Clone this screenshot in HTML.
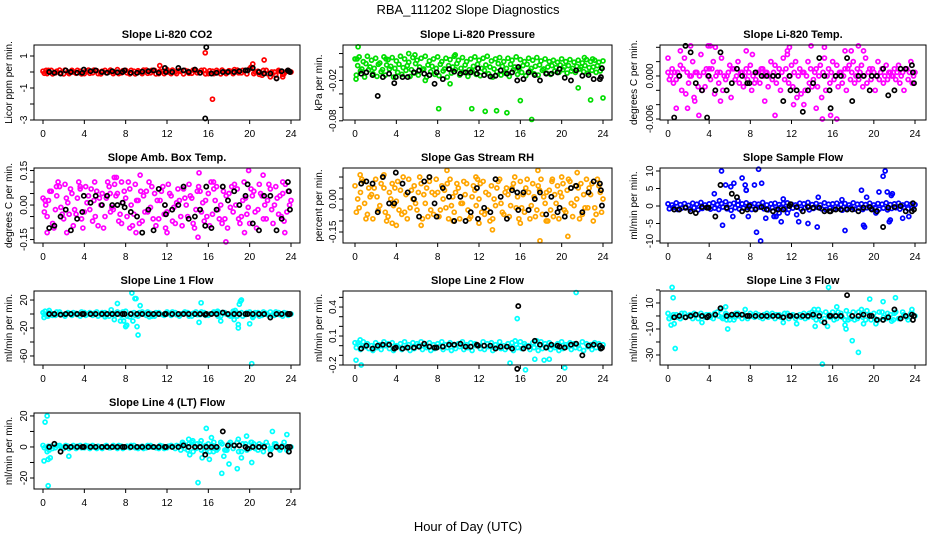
<!DOCTYPE html>
<html><head><meta charset="utf-8"><title>RBA_111202 Slope Diagnostics</title>
<style>
html,body{margin:0;padding:0;background:#fff;}
svg{display:block;font-family:"Liberation Sans",Arial,sans-serif;}
</style></head>
<body>
<svg id="chart" width="936" height="540" viewBox="0 0 936 540">
<rect x="0" y="0" width="936" height="540" fill="#fff"/>
<text x="468" y="14" text-anchor="middle" font-size="13">RBA_111202  Slope Diagnostics</text>
<text x="468" y="531" text-anchor="middle" font-size="13">Hour of Day (UTC)</text>
</svg>
<script>
const BAND_STEP = 0.4;
const hourTicks = [0,4,8,12,16,20,24];
const blackX = [0.6,1.1,1.7,2.2,2.7,3.3,3.8,3.95,4.6,5.1,5.7,6.2,6.7,7.2,7.7,7.9,8.5,9.1,9.6,10.2,10.7,11.2,11.8,11.9,12.5,13.1,13.6,14.1,14.7,15.2,15.7,15.8,16.3,16.8,17.4,17.9,18.5,19.0,19.6,19.8,20.3,20.9,21.4,22.0,22.6,23.1,23.7,23.8,23.9];

/* Panel 1: CO2 */
const p1BandA = [0.05,-0.1,0.1,-0.05,0.12,-0.12,0.0,0.1,-0.08,0.05,-0.1,0.12,-0.05,0.08,-0.12,0.1,0.0,-0.1,0.15,-0.05,0.1,-0.12,0.05,0.08,-0.1,0.12,-0.05,0.1,-0.1,0.05,0.15,-0.1,0.0,0.1,-0.12,0.05,-0.08,0.1,-0.05,0.12,-0.1,0.05,0.1,-0.12,0.0,0.08,-0.1,0.12,-0.05,0.1,0.2,-0.1,0.05,-0.2,0.1,-0.3,0.0,0.1,-0.15,0.05,0.0];
const p1BandB = [-0.08,0.1,-0.12,0.05,-0.05,0.12,-0.1,0.0,0.1,-0.12,0.05,-0.08,0.12,-0.1,0.05,-0.05,0.12,0.0,-0.1,0.08,-0.05,0.1,-0.12,0.0,0.12,-0.08,0.1,-0.12,0.05,-0.1,0.0,0.12,-0.1,0.05,0.1,-0.08,0.12,-0.05,0.1,-0.12,0.08,-0.1,0.0,0.12,-0.1,0.05,0.15,-0.05,0.1,-0.12,0.3,0.0,-0.15,0.1,-0.1,0.0,-0.2,0.05,-0.1,0.1,-0.05];
const p1OutX = [15.7,16.4,21.4,20.3,11.3,0.3,23.2,22.6];
const p1OutY = [1.2,-1.7,0.75,0.5,0.4,0.1,-0.3,-0.4];
const p1Black = [0.0,-0.05,-0.1,0.1,0.0,-0.05,-0.05,0.15,0.05,0.1,0.0,-0.05,0.05,-0.02,0.0,0.1,-0.05,-0.05,0.02,0.05,0.1,-0.05,0.25,0.0,0.0,0.25,0.1,0.0,0.15,-0.05,-2.9,1.55,-0.1,-0.05,0.0,0.0,0.0,0.05,0.1,0.1,0.25,0.0,-0.1,-0.1,-0.4,0.05,0.1,0.05,0.0];
const p1YTicks = [1,0,-1,-2,-3];
const p1YLabels = ["1","","-1","","-3"];

/* Panel 2: Pressure */
const p2BandA = [0.012,0.015,0.008,0.016,0.01,0.013,0.006,0.015,0.011,0.014,0.009,0.016,0.012,0.007,0.014,0.01,0.013,0.016,0.009,0.012,0.015,0.008,0.013,0.011,0.016,0.01,0.014,0.008,0.012,0.015,0.01,0.013,0.016,0.009,0.012,0.014,0.008,0.013,0.01,0.015,0.011,0.008,0.013,0.01,0.014,0.009,0.012,0.008,0.01,0.007,0.012,0.008,0.011,0.007,0.01,0.006,0.011,0.008,0.01,0.007,0.009];
const p2BandB = [-0.012,-0.006,-0.015,-0.004,-0.01,-0.014,-0.007,-0.012,-0.003,-0.015,-0.008,-0.011,-0.005,-0.014,-0.009,-0.012,-0.004,-0.015,-0.007,-0.011,-0.013,-0.006,-0.015,-0.009,-0.004,-0.012,-0.008,-0.014,-0.006,-0.011,-0.013,-0.005,-0.01,-0.015,-0.007,-0.012,-0.009,-0.014,-0.004,-0.011,-0.008,-0.013,-0.006,-0.01,-0.012,-0.005,-0.009,-0.011,-0.006,-0.008,-0.004,-0.009,-0.006,-0.008,-0.003,-0.007,-0.009,-0.005,-0.008,-0.006,-0.004];
const p2BandC = [0.002,-0.003,0.005,0.0,-0.002,0.004,-0.004,0.003,0.001,-0.002,0.004,-0.001,0.002,-0.004,0.005,0.0,-0.003,0.003,0.001,-0.002,0.004,-0.003,0.002,0.0,0.005,-0.002,0.003,-0.004,0.001,0.004,-0.002,0.003,0.0,-0.003,0.005,0.001,-0.002,0.004,0.0,-0.003,0.002,0.004,-0.002,0.001,0.003,-0.003,0.0,0.002,-0.001,0.003,0.0,0.002,-0.002,0.001,0.0,0.002,-0.001,0.0,0.002,-0.001,0.001];
const p2OutX = [0.3,0.1,0.2,5.2,5.8,9.7,8.1,9.2,11.3,12.6,13.7,14.7,16.0,17.1,21.6,22.8,24.0,6.8,3.0,22.2,23.0];
const p2OutY = [0.03,-0.018,0.012,0.02,0.018,0.018,-0.062,-0.025,-0.062,-0.066,-0.065,-0.068,-0.05,-0.078,-0.031,-0.049,-0.046,-0.02,0.012,0.014,0.012];
const p2Black = [-0.01,-0.008,-0.012,-0.043,-0.015,-0.01,-0.024,-0.015,-0.015,-0.015,-0.008,-0.005,-0.01,-0.012,-0.025,-0.008,-0.018,-0.003,-0.007,-0.01,-0.008,-0.008,-0.01,-0.002,-0.012,-0.014,-0.013,-0.005,-0.01,-0.008,-0.02,0.0,-0.018,-0.008,-0.012,-0.02,-0.01,-0.01,-0.008,-0.003,-0.016,-0.02,-0.005,-0.013,-0.012,-0.018,-0.018,-0.015,-0.002];
const p2YTicks = [0.02,0,-0.02,-0.04,-0.06,-0.08];
const p2YLabels = ["","","-0.02","","","-0.08"];

/* Panel 3: Li-820 Temp */
const p3BandA = [0.0005,0.001,-0.0005,0.0015,0.0025,-0.001,0.002,0.0005,0.003,-0.0015,0.001,0.002,0.0005,0.0025,-0.0005,0.0015,0.001,0.002,0.0005,0.001,0.0015,-0.001,0.0005,0.001,0.0005,0.002,0.0015,0.001,0.0025,0.003,0.0015,0.002,0.001,0.0005,0.002,-0.0015,0.001,0.0015,0.0025,0.001,0.002,0.0015,0.0005,0.001,0.0015,0.002,0.001,0.0015,0.0025,0.001,0.0005,0.002,0.001,0.0015,0.0005,0.001,0.0015,0.0005,0.001,0.002,0.0005];
const p3BandB = [-0.0005,-0.001,0.0005,-0.002,-0.0025,0.0,-0.003,-0.0015,-0.002,0.001,-0.0005,-0.0025,-0.001,-0.002,0.0,-0.003,-0.0005,-0.001,-0.0015,-0.0005,-0.002,-0.0005,-0.001,0.0,-0.0015,-0.0005,-0.001,-0.002,-0.0005,-0.001,-0.0015,-0.003,-0.0025,-0.002,-0.001,-0.0005,-0.0015,-0.003,-0.002,-0.001,-0.0005,-0.0015,-0.001,-0.002,-0.0005,-0.001,-0.0005,-0.0015,-0.001,-0.0005,-0.002,-0.0005,-0.001,-0.0005,0.0,-0.0005,-0.001,-0.002,-0.0005,-0.001,0.0];
const p3BandC = [0.0,0.0005,0.0,0.001,0.0005,0.0,0.0005,0.0,0.0005,0.0,0.001,0.0,0.0005,0.0,0.0005,0.001,0.0,0.0005,0.0,0.0005,0.0,0.0005,0.001,0.0005,0.0,0.0005,0.0,0.0005,0.001,0.0,0.0005,0.0,0.0005,0.0,0.001,0.0005,0.0,0.0005,0.0,0.0005,0.0,0.0005,0.0,0.001,0.0005,0.0,0.0005,0.0,0.0005,0.001,0.0,0.0005,0.0,0.0005,0.0,0.0005,0.0,0.001,0.0005,0.0,0.0005];
const p3OutX = [0,0.8,1.2,1.9,2.2,3.0,3.9,4.1,4.6,7.6,8.2,9.4,10.4,11.6,11.8,13.9,14.4,15.0,15.2,15.8,16.4,17.2,17.8,18.5,19.0,2.6,5.1,12.2,13.2];
const p3OutY = [0.0025,-0.0045,0.0035,-0.0045,0.0042,-0.0055,0.0042,0.0042,0.004,0.0035,0.003,-0.0035,-0.0055,0.0035,0.004,0.0042,-0.0045,-0.006,0.004,-0.0055,-0.006,0.0035,0.0035,0.0042,0.0035,-0.0035,-0.0035,-0.004,-0.004];
const p3Black = [-0.0058,0.0,0.0042,0.0033,-0.001,-0.002,-0.0058,0.0,-0.002,0.0033,-0.002,-0.001,0.001,0.0,-0.001,-0.001,0.0005,0.0,0.0,0.0,0.0,-0.0035,0.0,-0.002,-0.002,-0.005,-0.002,-0.001,0.0025,0.0,-0.002,-0.0045,0.0,0.0,0.0025,-0.0035,0.0,0.0,-0.002,0.0,0.0,0.001,-0.0027,-0.002,0.001,0.001,0.0015,0.0005,-0.001];
const p3YTicks = [0.004,0.002,0,-0.002,-0.004,-0.006];
const p3YLabels = ["","","0.000","","","-0.006"];

/* Panel 4: Amb. Box Temp */
const p4BandA = [0.03,-0.05,0.06,-0.02,0.08,-0.06,0.01,0.05,-0.04,0.07,-0.03,0.04,-0.07,0.06,0.0,-0.05,0.08,-0.02,0.05,-0.08,0.03,0.07,-0.04,0.02,-0.07,0.06,-0.01,0.05,-0.06,0.08,-0.03,0.04,-0.08,0.02,0.07,-0.05,0.03,-0.02,0.06,-0.07,0.05,-0.04,0.08,0.0,-0.06,0.05,-0.03,0.07,-0.05,0.03,-0.08,0.06,-0.02,0.04,-0.06,0.07,0.0,-0.04,0.05,-0.03,0.02];
const p4BandB = [-0.03,0.02,-0.08,0.04,-0.01,0.09,-0.04,-0.09,0.03,-0.06,0.08,-0.02,0.02,-0.09,0.05,0.03,-0.03,0.09,-0.07,0.01,-0.05,0.0,0.09,-0.08,0.04,-0.03,0.08,-0.09,0.02,-0.04,0.09,-0.07,0.01,-0.05,0.03,0.09,-0.08,0.06,-0.03,0.02,-0.09,0.07,-0.02,-0.08,0.04,-0.01,0.09,-0.06,0.02,-0.04,0.07,-0.03,0.09,-0.06,0.02,-0.02,0.08,0.04,-0.07,0.06,-0.02];
const p4BandC = [0.0,0.06,-0.1,0.1,-0.04,0.03,0.07,-0.02,0.1,-0.1,0.01,0.07,-0.05,0.03,-0.1,0.1,-0.01,0.04,-0.04,0.06,0.1,-0.09,0.02,0.06,-0.03,0.1,-0.06,0.02,0.06,-0.1,0.05,-0.01,0.07,-0.09,0.0,0.04,-0.1,0.08,0.01,-0.05,0.1,0.02,-0.06,0.06,-0.1,0.08,0.0,-0.08,0.1,-0.01,0.04,-0.1,0.05,0.0,0.09,-0.08,0.03,-0.05,0.09,0.0,-0.06];
const p4OutX = [0.2,0.4,2.3,3.6,5.0,6.9,7.1,7.6,8.4,9.0,9.4,12.0,15.1,15.0,16.5,17.7,19.5,19.9,21.3,23.2,23.4,6.5,1.3];
const p4OutY = [0.02,-0.12,-0.12,0.08,0.1,0.12,0.12,0.1,-0.1,-0.12,0.13,-0.12,0.14,-0.14,0.1,-0.16,-0.12,0.15,0.13,0.1,-0.12,0.05,0.08];
const p4Black = [-0.1,-0.09,-0.05,-0.02,-0.11,-0.06,-0.03,0.04,0.01,0.04,0.0,0.04,0.0,0.0,0.01,-0.01,-0.03,-0.05,-0.12,-0.02,-0.11,0.07,0.0,-0.04,-0.02,0.0,0.08,-0.06,-0.05,-0.02,-0.09,0.08,-0.1,-0.02,0.08,0.02,0.06,0.0,0.04,0.09,-0.08,-0.11,0.04,0.04,-0.11,-0.06,0.1,0.06,-0.02];
const p4YTicks = [0.15,0.1,0.05,0,-0.05,-0.1,-0.15];
const p4YLabels = ["0.15","","","0.00","","","-0.15"];

/* Panel 5: Gas Stream RH */
const p5BandA = [0.06,-0.04,0.08,-0.07,0.02,0.09,-0.03,0.05,-0.08,0.07,-0.01,0.04,-0.06,0.09,0.0,-0.05,0.07,-0.02,0.08,-0.07,0.03,0.06,-0.04,0.09,-0.06,0.05,-0.02,0.07,-0.08,0.04,0.0,0.08,-0.05,0.06,-0.03,0.09,-0.07,0.02,0.05,-0.04,0.08,-0.06,0.03,0.07,-0.05,0.09,-0.02,0.04,-0.08,0.06,0.01,-0.06,0.08,-0.03,0.05,-0.07,0.09,0.02,-0.04,0.06,0.0];
const p5BandB = [-0.06,0.03,-0.02,0.05,-0.09,0.01,0.07,-0.06,0.03,-0.03,0.08,-0.07,0.02,-0.04,0.06,0.03,-0.09,0.05,-0.05,0.02,-0.08,0.0,0.07,-0.03,0.03,-0.09,0.08,-0.05,0.01,-0.03,0.07,-0.07,0.02,-0.09,0.05,-0.02,0.03,-0.08,0.07,0.01,-0.04,0.05,-0.09,0.01,0.06,-0.07,0.03,-0.05,0.02,-0.09,0.07,0.04,-0.02,0.06,-0.09,0.02,-0.04,0.07,-0.07,0.03,-0.03];
const p5BandC = [0.0,0.09,-0.09,0.01,0.05,-0.05,0.1,-0.1,0.0,0.05,-0.05,0.1,-0.09,0.04,-0.02,0.1,0.02,-0.08,0.03,0.09,-0.05,0.04,-0.09,0.01,0.07,-0.02,0.02,-0.09,0.06,0.09,-0.06,0.03,-0.1,0.0,0.08,-0.06,0.05,-0.03,0.1,-0.09,0.02,0.09,-0.03,-0.08,0.04,0.01,-0.1,0.08,-0.02,0.03,-0.05,0.09,-0.08,0.0,0.07,-0.04,0.05,-0.1,0.09,-0.06,0.04];
const p5OutX = [0.5,2.8,4.0,6.4,8.9,9.5,12.0,13.3,16.0,17.7,17.9,18.5,20.0,20.6,21.5,11.7,19.1,3.6,7.2];
const p5OutY = [0.11,0.11,-0.12,-0.12,0.13,-0.1,-0.11,-0.14,-0.11,0.13,-0.19,-0.1,0.1,-0.17,0.12,0.1,0.09,-0.11,0.1];
const p5Black = [0.07,0.08,0.07,-0.06,0.1,-0.02,-0.02,0.12,0.07,0.03,0.0,-0.08,0.08,0.1,-0.02,-0.08,0.05,0.01,-0.1,0.01,-0.1,-0.06,0.05,-0.09,-0.04,-0.06,0.09,0.01,-0.09,0.04,0.03,-0.05,0.03,-0.05,0.0,0.03,-0.07,0.01,-0.06,-0.04,-0.08,0.05,0.06,-0.06,0.03,0.08,0.07,0.04,-0.03];
const p5YTicks = [0.1,0.05,0,-0.05,-0.1,-0.15];
const p5YLabels = ["","","0.00","","","-0.15"];

/* Panel 6: Sample Flow */
const p6BandA = [0.6,0.3,0.9,0.4,0.7,0.2,0.8,0.5,1.0,0.3,0.6,0.9,0.4,0.7,1.2,0.5,0.8,0.3,0.6,0.9,0.4,0.7,0.5,1.0,0.3,0.6,0.8,0.4,0.7,0.9,0.5,0.3,0.8,0.6,1.0,0.4,0.7,0.3,0.9,0.5,0.6,0.8,0.4,0.7,0.3,0.9,0.5,0.6,0.4,0.8,0.3,0.7,0.5,0.9,0.4,0.6,0.8,0.3,0.7,0.5,0.4];
const p6BandB = [-0.8,-0.4,-1.0,-0.6,-0.3,-0.9,-0.5,-1.1,-0.7,-0.4,-0.9,-0.6,-1.0,-0.3,-0.8,-1.2,-0.5,-0.9,-0.6,-0.4,-1.0,-0.7,-0.3,-0.8,-1.1,-0.5,-0.9,-0.4,-0.7,-1.0,-0.6,-0.3,-0.9,-0.5,-1.1,-0.7,-0.4,-0.8,-1.0,-0.6,-0.9,-0.5,-1.2,-0.7,-0.4,-0.9,-0.6,-1.0,-0.5,-0.8,-0.4,-0.9,-0.6,-1.1,-0.7,-0.5,-0.9,-0.4,-0.8,-0.6,-0.7];
const p6OutX = [5.2,5.3,4.5,5.6,6.1,6.4,7.2,7.5,7.6,7.8,8.4,8.6,8.8,9.0,9.1,7.6,6.3,9.5,10.3,10.5,11.0,11.2,12.5,12.7,13.6,14.6,14.5,17.2,18.8,19.0,19.1,19.3,20.2,20.5,20.9,21.1,21.3,21.5,21.7,21.8,21.6,22.8,23.4,5.0,6.8,10.8,11.6,16.9];
const p6OutY = [10,-5.5,3.5,6,5.5,6.5,8,6,4.5,-3,6,-7.5,10.5,-10,6.5,4.5,-3,-3.5,-3,-3,-4.5,2,-2.5,-4.5,-5,2.5,-6,-7,4.5,-5.5,-6,2.5,-2,4,8.5,10,4,-4.5,3,3.5,-4,-3.5,-3,1.5,1.5,-2,-2,1.8];
const p6Black = [-1,-1,-0.5,-1.5,-2,-0.3,-0.5,-0.5,-3,6,-0.5,3.5,2.5,-1.5,-1,0,-1,-0.3,-1,-1.5,-1,-1,0,0.5,-0.3,-1.5,-0.3,-0.5,-0.5,-1.5,-1.5,-1.5,-1,-1,-1,-1,-1.5,-0.5,-0.3,-1,-1.5,-6,-0.5,-0.3,0,-1.5,-1.5,0.8,-1];
const p6YTicks = [10,5,0,-5,-10];
const p6YLabels = ["10","5","0","-5","-10"];

/* Panel 7: Line 1 Flow */
const p7BandA = [2,-3,1,-2,3,-1,2,-2,1,-3,2,0,-2,3,-1,2,-3,1,3,-2,4,-4,2,-3,3,-2,1,-3,2,-1,3,-2,2,-3,1,2,-3,3,-1,2,-2,1,3,-3,2,-2,4,-3,2,-1,3,-3,2,-2,1,3,-2,2,-3,1,0];
const p7BandB = [-1,2,-2,3,0,-3,1,2,-1,3,-2,2,1,-3,2,-2,1,-2,0,3,-3,1,-2,2,0,3,-3,2,0,-2,1,3,-1,0,3,-3,1,-1,3,-2,0,3,-3,2,0,-3,2,1,-3,2,0,2,-3,3,-1,-2,3,-1,2,-2,1];
const p7OutX = [0.1,0.2,0.6,0.5,7.2,6.6,6.9,8.6,8.7,8.9,9.0,9.2,9.4,8.1,7.8,8.0,9.1,7.5,15.3,15.1,16.9,17.2,18.6,18.9,19.0,19.1,19.2,20.2,20.0,20.3,18.9,18.5,6.0,10.3];
const p7OutY = [-5,4,5,-3,15,6,-8,30,-10,22,22,-30,12,-16,-10,-18,-18,-10,16,-12,4,-10,5,-20,14,18,20,-71,-14,-5,-15,-8,-4,-4];
const p7Black = [0,0,-1,0,0,0,0,0,0,0,0,0,0,0,0,0,0,0,0,0,0,0,0,0,0,0,0,0,0,0,-1,0,0,0,2,0,0,0,0,0,0,0,0,-5,0,0,0,0,0];
const p7YTicks = [20,0,-20,-40,-60];
const p7YLabels = ["20","","-20","","-60"];

/* Panel 8: Line 2 Flow */
const p8BandA = [0.03,0.01,0.04,0.02,0.0,0.03,0.01,0.04,0.02,0.03,0.0,0.02,0.04,0.01,0.03,0.02,0.04,0.0,0.03,0.01,0.02,0.04,0.01,0.03,0.0,0.02,0.04,0.01,0.03,0.02,0.0,0.04,0.02,0.03,0.01,0.04,0.0,0.02,0.03,0.01,0.04,0.02,0.0,0.03,0.01,0.04,0.02,0.03,0.0,0.02,0.04,0.01,0.03,0.02,0.0,0.04,0.02,0.01,0.03,0.02,0.01];
const p8BandB = [-0.02,-0.04,-0.01,-0.03,-0.05,-0.02,-0.04,0.0,-0.03,-0.05,-0.01,-0.04,-0.02,-0.05,-0.03,0.0,-0.04,-0.02,-0.05,-0.03,-0.01,-0.04,-0.02,-0.05,-0.03,-0.01,-0.04,-0.02,-0.05,0.0,-0.03,-0.04,-0.01,-0.05,-0.02,-0.03,-0.04,-0.01,-0.05,-0.02,-0.03,0.0,-0.04,-0.02,-0.05,-0.03,-0.01,-0.04,-0.02,-0.05,-0.03,-0.01,-0.04,-0.02,-0.03,-0.05,-0.01,-0.04,-0.02,-0.03,-0.02];
const p8OutX = [0.1,0.5,0.6,15.7,15.0,16.5,20.3,21.4,17.4,18.3,18.8,0.3,17.6,15.5];
const p8OutY = [-0.15,0.06,-0.2,0.28,-0.18,-0.25,-0.23,0.55,-0.14,-0.15,-0.14,0.03,0.05,0.05];
const p8Black = [-0.03,0.0,-0.03,0.0,0.01,0.01,-0.03,-0.02,-0.03,-0.02,-0.02,-0.01,0.02,-0.01,-0.02,-0.02,-0.01,0.01,0.01,0.02,-0.01,-0.01,0.01,0.0,0.0,0.0,-0.03,-0.01,-0.01,-0.03,-0.24,0.41,-0.03,-0.01,0.05,0.01,-0.02,0.01,0.0,-0.01,-0.02,0.01,0.02,-0.1,0.0,0.01,0.0,-0.03,-0.02];
const p8YTicks = [0.5,0.4,0.3,0.2,0.1,0,-0.1,-0.2];
const p8YLabels = ["","0.4","","","0.1","","","-0.2"];

/* Panel 9: Line 3 Flow */
const p9BandA = [2,-1,1,-2,2,0,-2,1,2,-1,1,-2,3,-1,2,-3,1,2,-2,0,2,-1,1,-2,2,0,-2,1,-1,2,0,-2,1,2,-1,3,-3,2,-2,1,3,-2,2,-3,1,3,-2,2,-3,1,2,-3,3,-2,1,2,-2,3,-1,2,0];
const p9BandB = [-2,1,-1,2,-1,1,2,-2,0,1,-1,2,0,-2,1,0,-1,0,1,-2,0,2,-1,1,-1,2,1,-1,2,-2,1,0,-1,-2,2,-1,2,-4,3,-1,-3,3,-1,4,-2,-3,3,-1,4,-3,-2,3,-1,2,-4,3,-2,1,-3,2,-1];
const p9OutX = [0.1,0.5,0.4,0.3,0.6,0.7,1.2,3.3,5.6,5.7,5.8,6.4,6.6,11.2,12.5,14.3,14.6,15.0,15.5,15.6,16.4,17.2,17.3,17.5,17.9,18.5,18.8,19.0,19.6,20.2,20.9,21.9,22.1,23.7,5.1,7.5,14.2];
const p9OutY = [-2,14,22,-7,-6,-25,-2,-5,7,-3,-10,-3,2,-5,-6,-8,5,-37,-8,22,7,-7,-10,-3,-19,-28,5,-6,13,-6,11,-3,14,5,5,5,5];
const p9Black = [-1,0,-1,0,1,0,-1,0,1,6,0,1,1,1,0,0,0,0,0,0,0,-1,0,0,0,0,0,1,0,-5,0,0,0,0,16,0,0,1,0,0,-3,-3,-1,5,-2,0,1,-3,0];
const p9YTicks = [20,10,0,-10,-20,-30];
const p9YLabels = ["","10","","-10","","-30"];

/* Panel 10: Line 4 (LT) Flow */
const p10BandA = [1,-1,0.5,-0.5,1,-1,0.5,0,-1,1,-0.5,0.5,1,-1,0,0.5,-0.5,1,-1,0.5,0,-0.5,1,-1,0.5,-0.5,1,0,-1,0.5,-0.5,1,-1,0.5,2,-2,3,-1,2,-3,2,1,-2,3,-2,2,-1,3,-3,2,-1,2,-2,1,3,-2,2,-1,1,-2,0];
const p10BandB = [-0.5,0.5,-1,1,0,0.5,-1,1,0.5,-0.5,1,-1,0,0.5,-1,1,-0.5,0,1,-1,0.5,1,-0.5,0,-1,1,0,-0.5,1,-1,0.5,0,1,-2,-1,2,-3,2,-2,1,-3,3,-1,2,-2,3,1,-3,2,-2,3,-1,2,-3,1,-1,2,-2,3,-1,1];
const p10OutX = [0.1,0.2,0.5,0.4,0.5,0.7,2.5,2.2,14.1,14.2,15.0,15.3,15.4,15.8,16.1,16.3,16.5,17.3,17.5,17.8,18.0,18.8,18.9,19.2,19.7,20.2,20.2,22.2,23.6,13.5,14.5,16.6,0.4,0.6];
const p10OutY = [-9,16,-8,20,-25,-7,-6,1,5,-5,-23,4,-7,12,-8,6,-3,-17,-6,-2,-11,-14,5,-7,7,-10,3,10,8,3,4,-1,-3,-2];
const p10Black = [0,2,-3,0,0,0,0,0,0,0,0,0,0,0,0,0,0,0,0,0,0,0,0,0,0,0,1,0,0,0,-5,0,0,0,10,1,1,1,0,-1,0,0,0,-5,0,0,0,-3,0];
const p10YTicks = [20,10,0,-10,-20];
const p10YLabels = ["20","","0","","-20"];

/* Layout (geometry only) */
const colBox = [[34,300,43,291,12],[343,612,355,603,322],[660,926,668,915,637]];
const rowBox = [[45,120],[168,243],[291,365],[413,489]];

const panels = [
  {name:'co2',title:'Slope Li-820 CO2',ylab:'Licor ppm per min.',color:'#ff0000',bands:[p1BandA,p1BandB],outX:p1OutX,outY:p1OutY,black:p1Black,ticks:p1YTicks,labels:p1YLabels,ylim:[-3,1.6875],c:0,r:0},
  {name:'pressure',title:'Slope Li-820 Pressure',ylab:'kPa per min.',color:'#00dd00',bands:[p2BandA,p2BandB,p2BandC],outX:p2OutX,outY:p2OutY,black:p2Black,ticks:p2YTicks,labels:p2YLabels,ylim:[-0.0788,0.0327],c:1,r:0},
  {name:'li820-temp',title:'Slope Li-820 Temp.',ylab:'degrees C per min.',color:'#ff00ff',bands:[p3BandA,p3BandB,p3BandC],outX:p3OutX,outY:p3OutY,black:p3Black,ticks:p3YTicks,labels:p3YLabels,ylim:[-0.00614,0.00432],c:2,r:0},
  {name:'amb-box-temp',title:'Slope Amb. Box Temp.',ylab:'degrees C per min.',color:'#ff00ff',bands:[p4BandA,p4BandB,p4BandC],outX:p4OutX,outY:p4OutY,black:p4Black,ticks:p4YTicks,labels:p4YLabels,ylim:[-0.165,0.161],c:0,r:1},
  {name:'gas-stream-rh',title:'Slope Gas Stream RH',ylab:'percent per min.',color:'#ffa500',bands:[p5BandA,p5BandB,p5BandC],outX:p5OutX,outY:p5OutY,black:p5Black,ticks:p5YTicks,labels:p5YLabels,ylim:[-0.2,0.141],c:1,r:1},
  {name:'sample-flow',title:'Slope Sample Flow',ylab:'ml/min per min.',color:'#0000ff',bands:[p6BandA,p6BandB],outX:p6OutX,outY:p6OutY,black:p6Black,ticks:p6YTicks,labels:p6YLabels,ylim:[-10.57,10.86],c:2,r:1},
  {name:'line1-flow',title:'Slope Line 1 Flow',ylab:'ml/min per min.',color:'#00ffff',bands:[p7BandA,p7BandB],outX:p7OutX,outY:p7OutY,black:p7Black,ticks:p7YTicks,labels:p7YLabels,ylim:[-72.9,32.9],c:0,r:2},
  {name:'line2-flow',title:'Slope Line 2 Flow',ylab:'ml/min per min.',color:'#00ffff',bands:[p8BandA,p8BandB],outX:p8OutX,outY:p8OutY,black:p8Black,ticks:p8YTicks,labels:p8YLabels,ylim:[-0.2,0.566],c:1,r:2},
  {name:'line3-flow',title:'Slope Line 3 Flow',ylab:'ml/min per min.',color:'#00ffff',bands:[p9BandA,p9BandB],outX:p9OutX,outY:p9OutY,black:p9Black,ticks:p9YTicks,labels:p9YLabels,ylim:[-37.7,19.2],c:2,r:2},
  {name:'line4-lt-flow',title:'Slope Line 4 (LT) Flow',ylab:'ml/min per min.',color:'#00ffff',bands:[p10BandA,p10BandB],outX:p10OutX,outY:p10OutY,black:p10Black,ticks:p10YTicks,labels:p10YLabels,ylim:[-27.1,21.9],c:0,r:3}
];

const NS = 'http://www.w3.org/2000/svg';
const svg = document.getElementById('chart');
function mk(tag, attrs, parent){
  const e = document.createElementNS(NS, tag);
  for (const k in attrs) e.setAttribute(k, attrs[k]);
  parent.appendChild(e);
  return e;
}

panels.forEach(p => {
  const [bl, br, x0, x24, ytx] = colBox[p.c];
  const [bt, bb] = rowBox[p.r];
  const xs = h => x0 + h * (x24 - x0) / 24;
  const ys = v => bb - (v - p.ylim[0]) * (bb - bt) / (p.ylim[1] - p.ylim[0]);

  const g = mk('g', {}, svg);
  
  

  const t = mk('text', {x:(bl+br)/2, y:bt-7, 'text-anchor':'middle', 'font-size':11, 'font-weight':'bold'}, g);
  t.textContent = p.title;
  
  

  const yl = mk('text', {transform:`translate(${ytx},${(bt+bb)/2}) rotate(-90)`, 'text-anchor':'middle', 'font-size':10}, g);
  yl.textContent = p.ylab;
  
  

  const pts = mk('g', {fill:'none', 'stroke-width':1.7}, g);
  
  

  p.bands.forEach((band, k) => {
    band.forEach((v, i) => {
      const h = i * BAND_STEP + k * 0.13;
      if (h > 24) return;
      const c = mk('circle', {cx:xs(h), cy:ys(v), r:2.0, stroke:p.color}, pts);
      
      
    });
  });
  p.outX.forEach((h, i) => {
    const c = mk('circle', {cx:xs(h), cy:ys(p.outY[i]), r:2.0, stroke:p.color}, pts);
    
    
  });
  p.black.forEach((v, i) => {
    const c = mk('circle', {cx:xs(blackX[i]), cy:ys(v), r:2.1, stroke:'#000'}, pts);
    
    
  });

  const box = mk('rect', {x:bl, y:bt, width:br-bl, height:bb-bt, fill:'none', stroke:'#000', 'stroke-width':1}, g);
  
  

  const xa = mk('g', {}, g);
  
  
  mk('line', {x1:xs(0), x2:xs(24), y1:bb, y2:bb, stroke:'#000'}, xa);
  hourTicks.forEach(h => {
    mk('line', {x1:xs(h), x2:xs(h), y1:bb, y2:bb+4, stroke:'#000'}, xa);
    const lt = mk('text', {x:xs(h), y:bb+17, 'text-anchor':'middle', 'font-size':10}, xa);
    lt.textContent = h;
    
    
  });

  const ya = mk('g', {}, g);
  
  
  p.ticks.forEach((v, i) => {
    const y = ys(v);
    if (y < bt - 3 || y > bb + 3) return;
    mk('line', {x1:bl-4, x2:bl, y1:y, y2:y, stroke:'#000'}, ya);
    if (p.labels[i]) {
      const lt = mk('text', {transform:`translate(${bl-7},${y}) rotate(-90)`, 'text-anchor':'middle', 'font-size':10}, ya);
      lt.textContent = p.labels[i];
      
      
    }
  });
});
</script>
</body></html>
